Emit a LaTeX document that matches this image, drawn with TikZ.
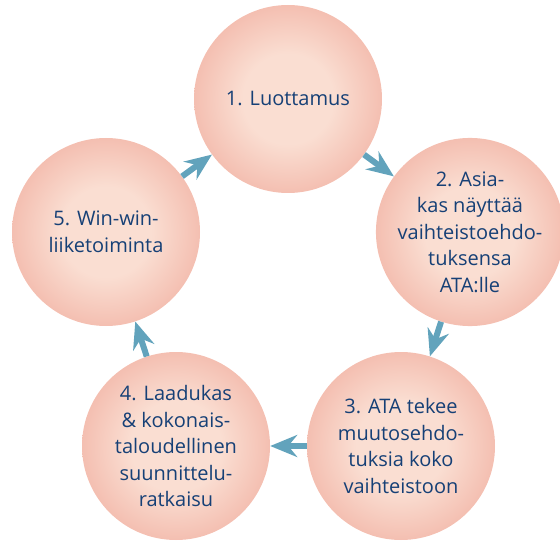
\documentclass[tikz,border=0pt]{standalone}
\usepackage{fontspec}
\setmainfont{Open Sans}
\usetikzlibrary{arrows.meta}
\definecolor{peachin}{RGB}{250,222,210}
\definecolor{peachmid}{RGB}{243,186,172}
\definecolor{peachout}{RGB}{229,140,130}
\definecolor{stepblue}{RGB}{22,64,118}
\definecolor{arrowteal}{RGB}{98,163,188}
\pgfdeclareradialshading{ballshade}{\pgfpoint{0bp}{0bp}}{color(0bp)=(peachin); color(12bp)=(peachin); color(27bp)=(peachmid); color(35bp)=(peachout); color(50bp)=(peachout)}
\tikzset{
  stepball/.style={circle, minimum size=188pt, inner sep=0pt, shading=ballshade,
    text=stepblue, align=center, font=\fontsize{20}{26.5}\selectfont},
  cyclearrow/.style={draw=arrowteal, line width=6pt,
    -{Stealth[length=27pt, width=22pt, inset=9pt, fill=arrowteal]}}
}
\begin{document}
\begin{tikzpicture}[x=1pt,y=1pt]
\useasboundingbox (0,0) rectangle (560,542);
\node[stepball] (sid1) at (288,443){1. Luottamus};
\node[stepball] (sid2) at (470,310){2. Asia-\\kas näyttää\\vaihteistoehdo-\\tuksensa\\ATA:lle};
\node[stepball] (sid3) at (401,96){3. ATA tekee\\muutosehdo-\\tuksia koko\\vaihteistoon};
\node[stepball] (sid4) at (176,96){4. Laadukas\\\& kokonais-\\taloudellinen\\suunnittelu-\\ratkaisu};
\node[stepball] (sid5) at (106,310){5. Win-win-\\liiketoiminta};
\draw[cyclearrow](sid1) -- (sid2);
\draw[cyclearrow](sid2) -- (sid3);
\draw[cyclearrow](sid3) -- (sid4);
\draw[cyclearrow](sid4) -- (sid5);
\draw[cyclearrow](sid5) -- (sid1);
\end{tikzpicture}
\end{document}
